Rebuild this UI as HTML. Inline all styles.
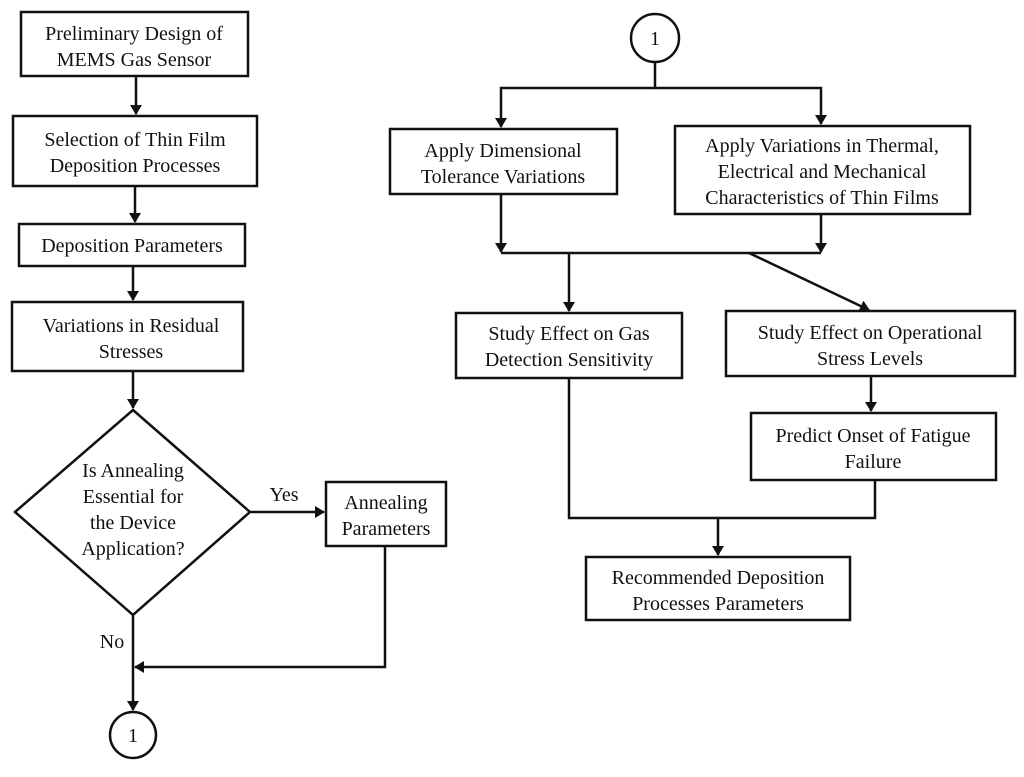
<!DOCTYPE html>
<html><head><style>
body{margin:0;background:#fff;}
svg text{font-family:"Liberation Serif",serif;font-size:20px;fill:#111;text-anchor:middle;}
</style></head><body>
<svg width="1024" height="772" viewBox="0 0 1024 772" xmlns="http://www.w3.org/2000/svg">
<defs><marker id="a" markerWidth="10" markerHeight="12" refX="9" refY="6" orient="auto" markerUnits="userSpaceOnUse"><path d="M0,0 L10,6 L0,12 z" fill="#111"/></marker></defs>
<g fill="none" stroke="#111" stroke-width="2.5">
<rect x="21" y="12" width="227" height="64"/>
<rect x="13" y="116" width="244" height="70"/>
<rect x="19" y="224" width="226" height="42"/>
<rect x="12" y="302" width="231" height="69"/>
<polygon points="133,410 250,512 133,615 15,512"/>
<rect x="326" y="482" width="120" height="64"/>
<circle cx="133" cy="735" r="23"/>
<circle cx="655" cy="38" r="24"/>
<rect x="390" y="129" width="227" height="65"/>
<rect x="675" y="126" width="295" height="88"/>
<rect x="456" y="313" width="226" height="65"/>
<rect x="726" y="311" width="289" height="65"/>
<rect x="751" y="413" width="245" height="67"/>
<rect x="586" y="557" width="264" height="63"/>
</g>
<g fill="none" stroke="#111" stroke-width="2.5" marker-end="url(#a)">
<line x1="136" y1="76" x2="136" y2="114"/>
<line x1="135" y1="186" x2="135" y2="222"/>
<line x1="133" y1="266" x2="133" y2="300"/>
<line x1="133" y1="371" x2="133" y2="408"/>
<line x1="250" y1="512" x2="324" y2="512"/>
<polyline points="385,546 385,667 135,667"/>
<line x1="133" y1="615" x2="133" y2="710"/>
<polyline points="655,62 655,88 501,88 501,127"/>
<polyline points="655,88 821,88 821,124"/>
<line x1="501" y1="194" x2="501" y2="252"/>
<line x1="821" y1="214" x2="821" y2="252"/>
<line x1="569" y1="253" x2="569" y2="311"/>
<line x1="749" y1="253" x2="869" y2="310"/>
<line x1="871" y1="376" x2="871" y2="411"/>
<polyline points="875,480 875,518 718,518 718,555"/>
</g>
<g fill="none" stroke="#111" stroke-width="2.5">
<line x1="501" y1="253" x2="821" y2="253"/>
<polyline points="569,378 569,518 718,518"/>
</g>
<text x="134" y="40">Preliminary Design of</text>
<text x="134" y="66">MEMS Gas Sensor</text>
<text x="135" y="146">Selection of Thin Film</text>
<text x="135" y="172">Deposition Processes</text>
<text x="132" y="252">Deposition Parameters</text>
<text x="131" y="332">Variations in Residual</text>
<text x="131" y="358">Stresses</text>
<text x="133" y="477">Is Annealing</text>
<text x="133" y="503">Essential for</text>
<text x="133" y="529">the Device</text>
<text x="133" y="555">Application?</text>
<text x="284" y="501">Yes</text>
<text x="112" y="648">No</text>
<text x="386" y="509">Annealing</text>
<text x="386" y="535">Parameters</text>
<text x="133" y="742">1</text>
<text x="655" y="45">1</text>
<text x="503" y="157">Apply Dimensional</text>
<text x="503" y="183">Tolerance Variations</text>
<text x="822" y="152">Apply Variations in Thermal,</text>
<text x="822" y="178">Electrical and Mechanical</text>
<text x="822" y="204">Characteristics of Thin Films</text>
<text x="569" y="340">Study Effect on Gas</text>
<text x="569" y="366">Detection Sensitivity</text>
<text x="870" y="339">Study Effect on Operational</text>
<text x="870" y="365">Stress Levels</text>
<text x="873" y="442">Predict Onset of Fatigue</text>
<text x="873" y="468">Failure</text>
<text x="718" y="584">Recommended Deposition</text>
<text x="718" y="610">Processes Parameters</text>
</svg>
</body></html>
